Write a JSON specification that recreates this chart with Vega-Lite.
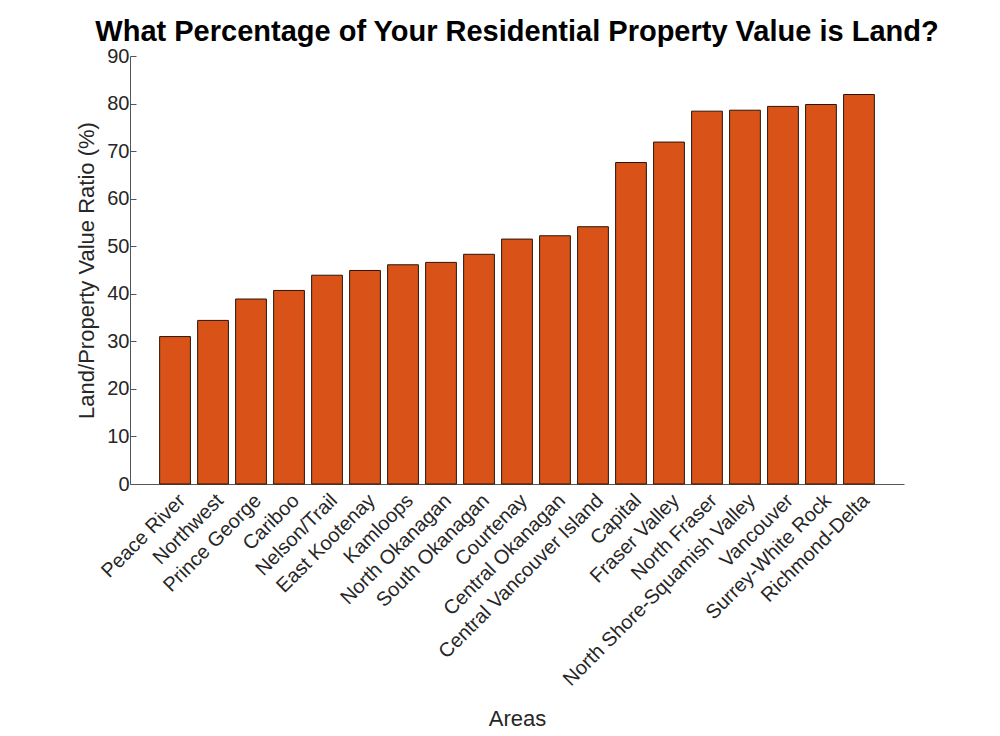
{
  "$schema": "https://vega.github.io/schema/vega-lite/v6.json",
  "width": 774,
  "height": 428,
  "autosize": {"type": "none"},
  "padding": {"left": 130, "top": 56, "right": 96, "bottom": 252},
  "background": "white",
  "title": {
    "text": "What Percentage of Your Residential Property Value is Land?",
    "font": "Liberation Sans",
    "fontSize": 29,
    "fontWeight": "bold",
    "color": "#000000",
    "anchor": "middle",
    "offset": -1
  },
  "data": {
    "values": [
      {"area": "Peace River", "ratio": 31.0},
      {"area": "Northwest", "ratio": 34.4},
      {"area": "Prince George", "ratio": 38.9},
      {"area": "Cariboo", "ratio": 40.7},
      {"area": "Nelson/Trail", "ratio": 43.9},
      {"area": "East Kootenay", "ratio": 44.9},
      {"area": "Kamloops", "ratio": 46.1},
      {"area": "North Okanagan", "ratio": 46.6},
      {"area": "South Okanagan", "ratio": 48.3},
      {"area": "Courtenay", "ratio": 51.5},
      {"area": "Central Okanagan", "ratio": 52.2},
      {"area": "Central Vancouver Island", "ratio": 54.1},
      {"area": "Capital", "ratio": 67.6},
      {"area": "Fraser Valley", "ratio": 71.9},
      {"area": "North Fraser", "ratio": 78.4},
      {"area": "North Shore-Squamish Valley", "ratio": 78.6},
      {"area": "Vancouver", "ratio": 79.4},
      {"area": "Surrey-White Rock", "ratio": 79.8},
      {"area": "Richmond-Delta", "ratio": 81.9}
    ]
  },
  "mark": {"type": "bar", "fill": "#D95319", "stroke": "#2a1408", "strokeWidth": 1},
  "encoding": {
    "x": {
      "field": "area",
      "type": "nominal",
      "sort": null,
      "title": "Areas",
      "scale": {"paddingInner": 0.19, "paddingOuter": 0.78},
      "axis": {
        "labelAngle": -45,
        "labelAlign": "right",
        "labelBaseline": "top",
        "labelPadding": 6,
        "labelLimit": 0,
        "ticks": false,
        "titlePadding": 24
      }
    },
    "y": {
      "field": "ratio",
      "type": "quantitative",
      "title": "Land/Property Value Ratio (%)",
      "scale": {"domain": [0, 90], "nice": false},
      "axis": {
        "values": [0, 10, 20, 30, 40, 50, 60, 70, 80, 90],
        "tickSize": -6,
        "labelPadding": 7,
        "titlePadding": 8,
        "grid": false
      }
    }
  },
  "config": {
    "view": {"stroke": null},
    "axis": {
      "labelFont": "Liberation Sans",
      "titleFont": "Liberation Sans",
      "labelFontSize": 20,
      "titleFontSize": 22,
      "titleFontWeight": "normal",
      "labelColor": "#262626",
      "titleColor": "#262626",
      "domainColor": "#555555",
      "tickColor": "#555555",
      "labelOverlap": false
    }
  }
}
